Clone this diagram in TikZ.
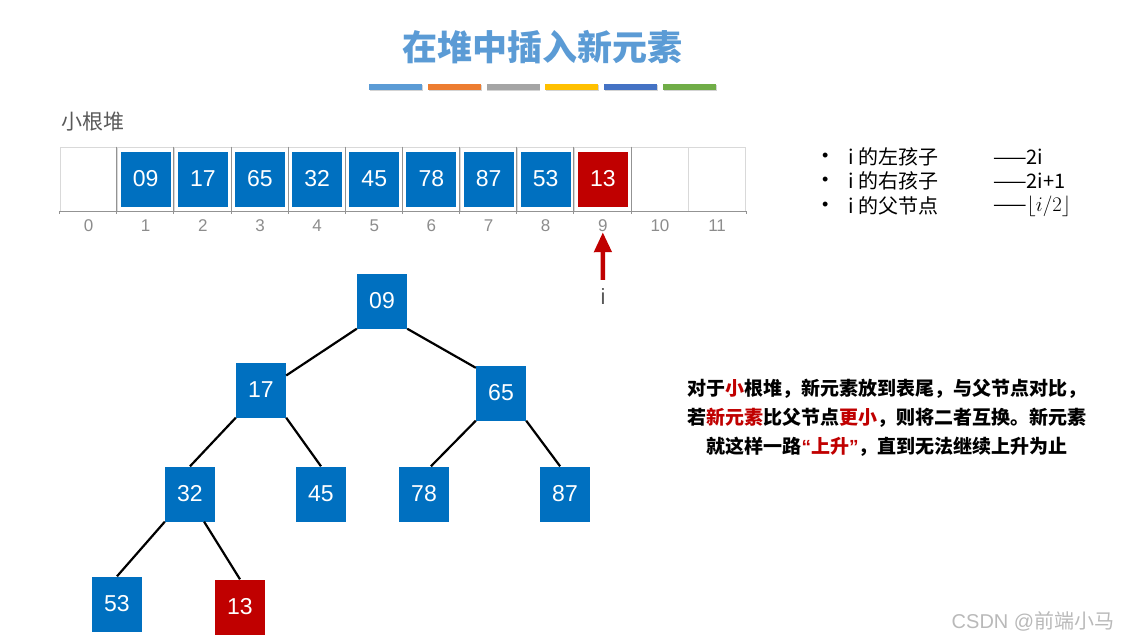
\documentclass[tikz,border=0pt]{standalone}
\usepackage{fontspec}
\setmainfont{Liberation Sans}
\newfontfamily\cjk{Noto Sans CJK SC}
\usetikzlibrary{arrows.meta, positioning, shadows}
\definecolor{heapblue}{HTML}{0070C0}
\definecolor{heapred}{HTML}{C00000}
\definecolor{titleblue}{HTML}{5B9BD5}
\definecolor{barA}{HTML}{5B9BD5}
\definecolor{barB}{HTML}{ED7D31}
\definecolor{barC}{HTML}{A5A5A5}
\definecolor{barD}{HTML}{FFC000}
\definecolor{barE}{HTML}{4472C4}
\definecolor{barF}{HTML}{70AD47}
\definecolor{labelgray}{HTML}{595959}
\definecolor{idxgray}{HTML}{8C8C8C}
\tikzstyle{numbox}   = [fill=heapblue, text=white, minimum width=50pt, minimum height=55pt, inner sep=0pt, font=\fontsize{23}{23}\selectfont]
\tikzstyle{newbox}   = [numbox, fill=heapred]
\tikzstyle{cellbox}  = [draw=gray!30, line width=0.8pt, minimum width=57.14pt, minimum height=64pt, inner sep=0pt]
\tikzstyle{divider}  = [draw=gray!85, line width=0.8pt]
\tikzstyle{idx}      = [text=idxgray, inner sep=0pt, font=\fontsize{17}{17}\selectfont]
\tikzstyle{edge}     = [line width=2.2pt, black]
\tikzstyle{colorbar} = [minimum width=53pt, minimum height=6pt, inner sep=0pt, drop shadow={shadow xshift=0.8pt, shadow yshift=-0.8pt, opacity=0.35}]
\tikzstyle{uparrow}  = [line width=4.5pt, draw=heapred, -{Triangle[width=17pt,length=20pt]}]
\tikzstyle{plain}    = [inner sep=0pt, anchor=west, font=\cjk\fontsize{20}{24}\selectfont]
\tikzstyle{dot}      = [inner sep=0pt, anchor=west, font=\fontsize{18}{20}\selectfont]

\begin{document}
\begin{tikzpicture}[x=1pt, y=-1pt]
    \useasboundingbox (0,0) rectangle (1122,641);

    % Titel
    \node[text=titleblue, font=\cjk\bfseries\fontsize{35}{40}\selectfont] (title) at (542,47) {在堆中插入新元素};
    \foreach \c [count=\k] in {barA,barB,barC,barD,barE,barF} {
        \node[colorbar, fill=\c] (bar\k) at ({395.5+58.8*(\k-1)},87) {};
    }

    % Feld
    \node[anchor=west, inner sep=0pt, text=labelgray, font=\cjk\fontsize{21}{24}\selectfont] (heapname) at (61,122) {小根堆};
    \foreach \i in {0,...,11} {
        \node[cellbox] (c\i) at ({88.57+57.14*\i},179) {};
        \node[idx] (l\i) at ({88.57+57.14*\i},226) {\i};
    }
    \foreach \i in {1,...,10} {
        \draw[divider] (c\i.north west) -- ++(0,67);
    }
    \draw[divider] (c0.south west) -- (c11.south east);
    \draw[divider] (c0.south west) -- ++(0,3);
    \draw[divider] (c11.south east) -- ++(0,3);

    \foreach \i/\v in {1/09,2/17,3/65,4/32,5/45,6/78,7/87,8/53} {
        \node[numbox] (a\i) at (c\i) {\v};
    }
    \node[newbox] (a9) at (c9) {13};

    % Zeiger
    \node[inner sep=0pt, text=labelgray, font=\fontsize{22}{22}\selectfont] (ilabel) at (603,297) {i};
    \draw[uparrow, shorten <=9pt] (ilabel.north) -- (l9.south);

    % Formeln
    \foreach \y/\t/\f in {157/左孩子/2i, 181/右孩子/2i+1} {
        \node[dot] at (822,\y) {\textbullet};
        \node[plain] at (848,\y) {i 的\t};
        \node[plain] at (993,\y) {——\f};
    }
    \node[dot] (b3) at (822,206) {\textbullet};
    \node[plain] (t3) at (848,206) {i 的父节点};
    \node[plain] (f3) at (993,206) {——$\lfloor i/2\rfloor$};

    % Baum
    \node[numbox] (t09) at (382,301) {09};
    \node[numbox] (t17) at (261,390) {17};
    \node[numbox] (t65) at (501,393) {65};
    \node[numbox] (t32) at (190,494) {32};
    \node[numbox] (t45) at (321,494) {45};
    \node[numbox] (t78) at (424,494) {78};
    \node[numbox] (t87) at (565,494) {87};
    \node[numbox] (t53) at (117,604) {53};
    \node[newbox] (t13) at (240,607) {13};

    \draw[edge] (t09.south west) -- (t17.30);
    \draw[edge] (t09.south east) -- (t65.135);
    \draw[edge] (t17.south west) -- (t32.north);
    \draw[edge] (t17.south east) -- (t45.north);
    \draw[edge] (t65.south west) -- (t78.76);
    \draw[edge] (t65.south east) -- (t87.100);
    \draw[edge] (t32.south west) -- (t53.north);
    \draw[edge] (t32.-63) -- (t13.north);

    % Erklaerung
    \node[align=center, font=\cjk\bfseries\fontsize{19}{29}\selectfont] (note) at (887,418)
        {对于\textcolor{heapred}{小}根堆，新元素放到表尾，与父节点对比，\\
        若\textcolor{heapred}{新元素}比父节点\textcolor{heapred}{更小}，则将二者互换。新元素\\
        就这样一路\textcolor{heapred}{{\rmfamily\bfseries “}上升{\rmfamily\bfseries ”}}，直到无法继续上升为止};

    \node[text=gray!55, font=\fontsize{20}{20}\selectfont] (mark) at (1033,621) {CSDN @{\cjk 前端小马}};
\end{tikzpicture}
\end{document}
